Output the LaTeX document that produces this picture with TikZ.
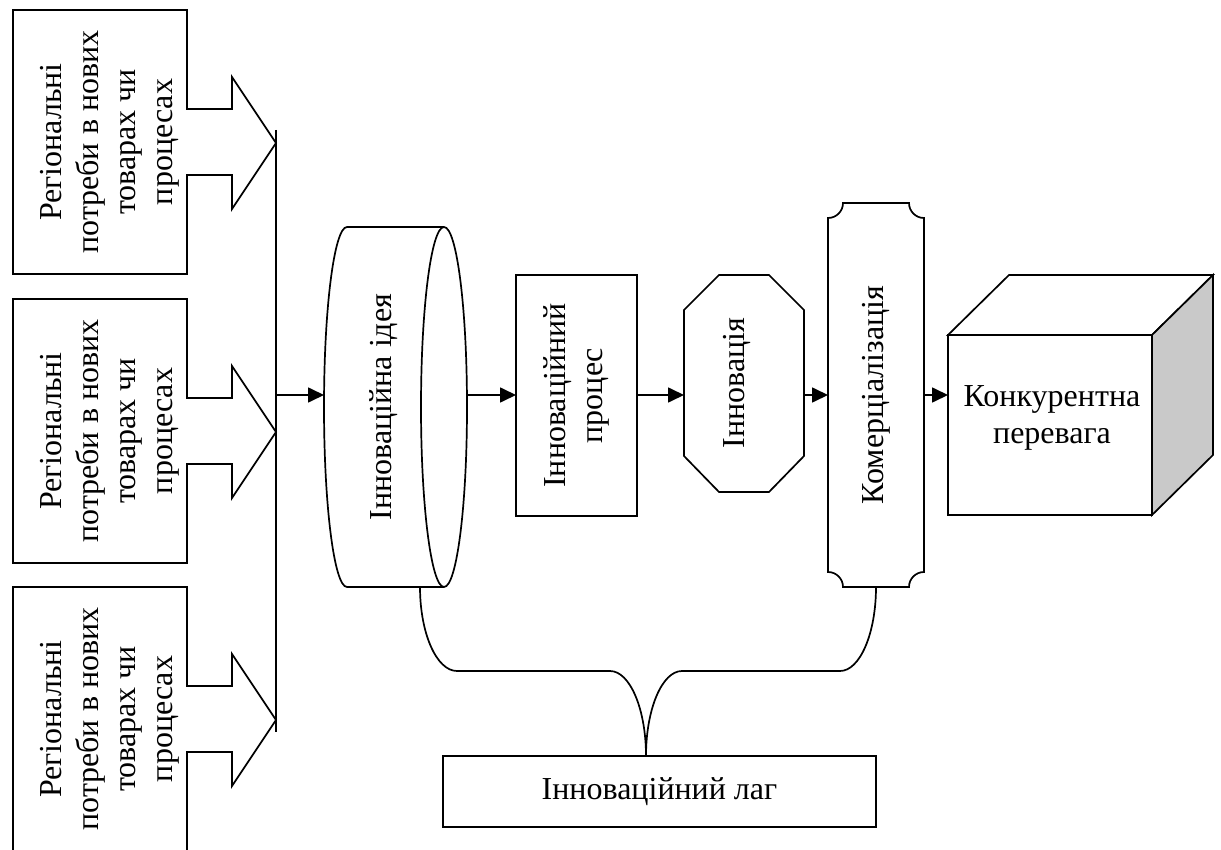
\documentclass[tikz,border=0pt]{standalone}
\usepackage{fontspec}
\setmainfont{Liberation Serif}
\usetikzlibrary{arrows.meta,calc}
\begin{document}
\begin{tikzpicture}[x=1pt,y=-1pt,
  ln/.style={line width=1.7pt, line join=miter},
  arr/.style={ln, -{Triangle[length=16pt,width=15pt]}},
  txt/.style={font=\fontsize{32}{37}\selectfont, align=center, inner sep=0pt},
  vtxt/.style={txt, rotate=90},
  frame/.style={inner sep=0pt, outer sep=0pt},
  boxed/.style={ln, draw, fill=white, inner sep=0pt, outer sep=0pt}]
\useasboundingbox (0,0) rectangle (1221,850);
\fill[white] (0,0) rectangle (1221,850);

% main axis
\coordinate (axis) at (0,395);

% left boxes with block arrows
\foreach \t/\n in {10/a,299/b,587/c}{
  \draw[ln, fill=white] (13,\t) -- (187,\t) -- (187,\t+99) -- (232,\t+99) -- (232,\t+67)
     -- (276,\t+133) -- (232,\t+199) -- (232,\t+165) -- (187,\t+165) -- (187,\t+264)
     -- (13,\t+264) -- cycle;
  \node[vtxt] (need\n) at (109.5,\t+132) {Регіональні\\потреби в нових\\товарах чи\\процесах};
  \coordinate (tip\n) at (276,\t+133);
}

% collecting bus
\coordinate (busTop) at (276,130);
\coordinate (busBot) at (276,732);
\draw[ln] (busTop) -- (busBot);

% cylinder: Інноваційна ідея
\node[frame, minimum width=143pt, minimum height=360pt] (idea) at (395.5,407) {};
\draw[ln, fill=white] (347,227) -- (444,227)
   .. controls (456.7,227) and (467,307.6) .. (467,407)
   .. controls (467,506.4) and (456.7,587) .. (444,587) -- (347,587)
   .. controls (334.3,587) and (324,506.4) .. (324,407)
   .. controls (324,307.6) and (334.3,227) .. (347,227) -- cycle;
\draw[ln] (444,227) .. controls (431.3,227) and (421,307.6) .. (421,407)
   .. controls (421,506.4) and (431.3,587) .. (444,587);
\node[vtxt] (ideaT) at (384,407) {Інноваційна ідея};

% process box
\node[boxed, minimum width=121pt, minimum height=241pt] (proc) at (576.5,395.5) {};
\node[vtxt] (procT) at (proc) {Інноваційний\\процес};

% octagon: Інновація
\node[frame, minimum width=120pt, minimum height=217pt] (inn) at (744,383.5) {};
\draw[ln, fill=white] (719,275) -- (769,275) -- (804,310) -- (804,456) -- (769,492)
   -- (719,492) -- (684,456) -- (684,310) -- cycle;
\node[vtxt] (innT) at (737,383) {Інновація};

% plaque: Комерціалізація
\node[frame, minimum width=96pt, minimum height=384pt] (com) at (876,395) {};
\draw[ln, fill=white] (843,203) -- (909,203)
   .. controls (909,211.3) and (915.7,218) .. (924,218) -- (924,572)
   .. controls (915.7,572) and (909,578.7) .. (909,587) -- (843,587)
   .. controls (843,578.7) and (836.3,572) .. (828,572) -- (828,218)
   .. controls (836.3,218) and (843,211.3) .. (843,203) -- cycle;
\node[vtxt] (comT) at (876,395) {Комерціалізація};

% cube: Конкурентна перевага
\node[boxed, minimum width=204pt, minimum height=180pt] (cube) at (1050,425) {};
\draw[ln, fill=white] (cube.north west) -- ++(61,-60) -- (1213,275) -- (cube.north east) -- cycle;
\draw[ln, fill=gray!42] (cube.north east) -- (1213,275) -- (1213,455) -- (cube.south east) -- cycle;
\node[txt] (cubeT) at (1052,418) {Конкурентна\\перевага};

% lag box
\node[boxed, txt, minimum width=433pt, minimum height=71pt] (lag) at (659.5,791.5) {Інноваційний лаг};

% main arrows
\draw[arr] (busTop |- axis) -- (idea.west |- axis);
\draw[arr] (idea.east |- axis) -- (proc.west |- axis);
\draw[arr] (proc.east |- axis) -- (inn.west |- axis);
\draw[arr] (inn.east |- axis) -- (com.west |- axis);
\draw[arr] (com.east |- axis) -- (cube.west |- axis);

% brace to lag
\coordinate (ideaB) at ($(idea.south)+(24.5,0)$);
\coordinate (comB) at (com.south);
\coordinate (lagT) at ($(lag.north)+(-13.5,0)$);
\draw[ln] (ideaB) .. controls ($(ideaB)+(0,46.4)$) and (436.6,671) .. (457,671)
   -- (610,671) .. controls (629.9,671) and ($(lagT)+(0,-47)$) .. (lagT);
\draw[ln] (comB) .. controls ($(comB)+(0,46.4)$) and (859.9,671) .. (840,671)
   -- (682,671) .. controls (662.1,671) and ($(lagT)+(0,-47)$) .. (lagT);
\end{tikzpicture}
\end{document}
